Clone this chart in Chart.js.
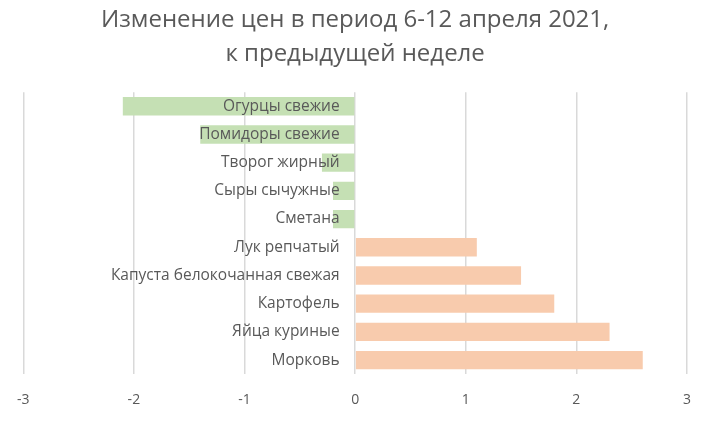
<!DOCTYPE html>
<html>
<head>
<meta charset="utf-8">
<script src="https://cdn.jsdelivr.net/npm/chart.js@4.4.1/dist/chart.umd.min.js"></script>
<style>
html,body{margin:0;padding:0;background:#fff;}
#wrap{width:727px;height:423px;position:relative;}
</style>
</head>
<body>
<div id="wrap"><canvas id="c"></canvas></div>
<script>
const titleLines = ["Изменение цен в период 6-12 апреля 2021,", "к предыдущей неделе"];
const categories = ["Огурцы свежие","Помидоры свежие","Творог жирный","Сыры сычужные","Сметана","Лук репчатый","Капуста белокочанная свежая","Картофель","Яйца куриные","Морковь"];
const values = [-2.1,-1.4,-0.3,-0.2,-0.2,1.1,1.5,1.8,2.3,2.6];
const xTicks = [-3,-2,-1,0,1,2,3];
const negColor = "#C5E0B4";
const posColor = "#F8CBAD";
const textColor = "#595959";
const fontFamily = "'Open Sans', 'Noto Sans', sans-serif";

new Chart(document.getElementById('c'), {
  type: 'bar',
  data: {
    labels: categories,
    datasets: [{
      data: values,
      backgroundColor: values.map(v => v < 0 ? negColor : posColor),
      borderWidth: 0,
      categoryPercentage: 1,
      barPercentage: 0.65
    }]
  },
  options: {
    indexAxis: 'y',
    responsive: true,
    maintainAspectRatio: false,
    animation: false,
    layout: { padding: { left: 6, right: 40, top: 3, bottom: -2 } },
    plugins: {
      legend: { display: false },
      tooltip: { enabled: false },
      title: {
        display: true,
        fullSize: false,
        text: titleLines,
        color: textColor,
        font: { family: fontFamily, size: 24, weight: 'normal', lineHeight: 1.42 },
        padding: { top: 0, bottom: 21 }
      }
    },
    scales: {
      x: {
        min: -3, max: 3,
        afterBuildTicks: (s) => { s.ticks = xTicks.map(v => ({ value: v })); },
        grid: { color: '#D9D9D9', lineWidth: 1.5, drawTicks: false },
        border: { display: false },
        ticks: { color: textColor, font: { family: fontFamily, size: 14 }, padding: 17 }
      },
      y: {
        position: { x: -0.14 },
        grid: { display: false },
        border: { display: false },
        ticks: { z: 1, color: textColor, font: { family: fontFamily, size: 15.5 }, autoSkip: false }
      }
    }
  }
});
</script>
</body>
</html>
